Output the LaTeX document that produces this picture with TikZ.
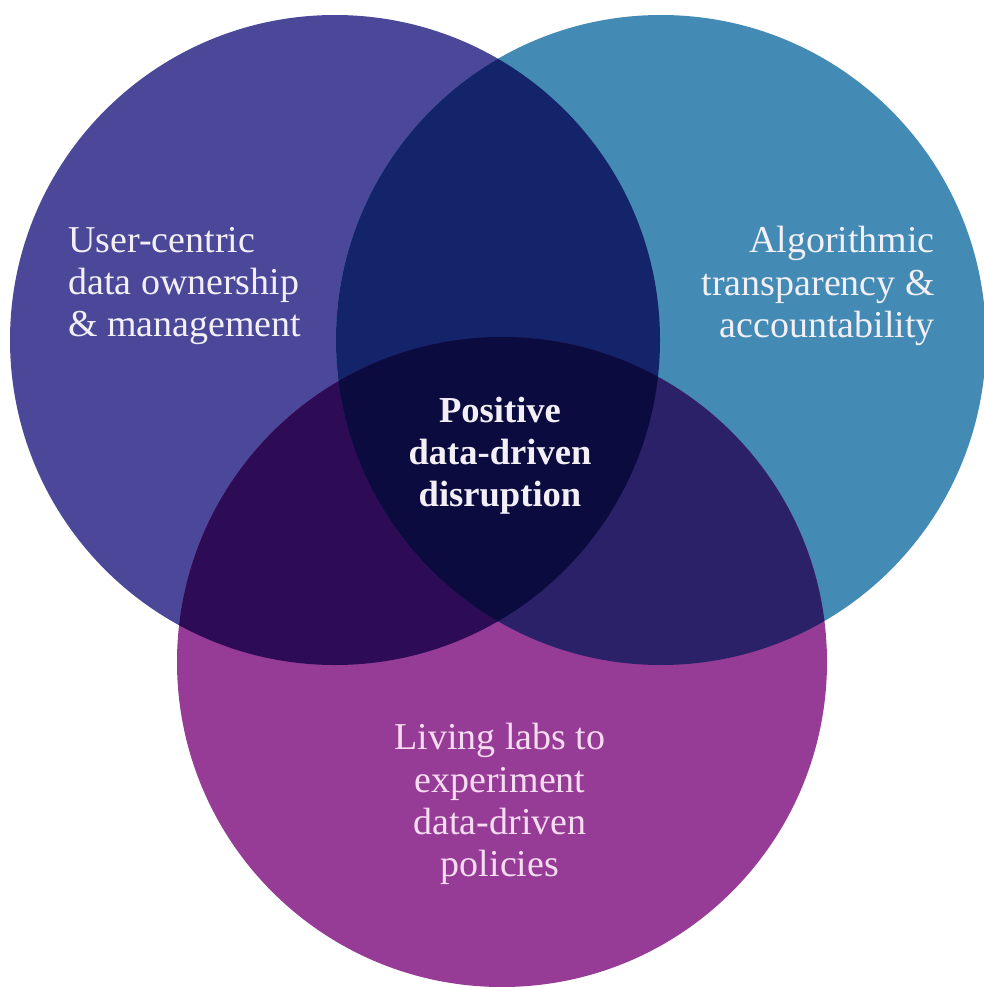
\documentclass[tikz,border=0pt]{standalone}
\usepackage{fontspec}
\setmainfont{Liberation Serif}
\usetikzlibrary{positioning}
\definecolor{ownerblue}{HTML}{4B4899}
\definecolor{algoblue}{HTML}{438AB5}
\definecolor{labpurple}{HTML}{963C96}
\definecolor{navyAB}{HTML}{14246B}
\definecolor{plumAC}{HTML}{2E0C55}
\definecolor{indigoBC}{HTML}{2A2169}
\definecolor{coreink}{HTML}{0B0B40}
\definecolor{softwhite}{HTML}{F2F0F6}
\definecolor{softpink}{HTML}{F6DCF0}
\tikzset{
  venntext/.style={text=softwhite, font=\fontsize{27}{30}\selectfont, inner sep=0pt},
  corebold/.style={venntext, font=\fontsize{26}{30}\selectfont\bfseries, align=center}
}

\begin{document}
\begin{tikzpicture}[x=0.025cm, y=-0.025cm]
  \useasboundingbox (0,0) rectangle (984,987);
  \def\R{325}
  \coordinate (own) at (335,340);
  \coordinate (algo) at (661,340);
  \coordinate (lab) at (502,662);
  % the three sets
  \fill[ownerblue] (own) circle[radius=\R];
  \fill[algoblue] (algo) circle[radius=\R];
  \fill[labpurple] (lab) circle[radius=\R];
  % pairwise overlaps
  \begin{scope}
    \clip (own) circle[radius=\R];
    \fill[navyAB] (algo) circle[radius=\R];
    \fill[plumAC] (lab) circle[radius=\R];
  \end{scope}
  \begin{scope}
    \clip (algo) circle[radius=\R];
    \fill[indigoBC] (lab) circle[radius=\R];
  \end{scope}
  % centre
  \begin{scope}
    \clip (own) circle[radius=\R];
    \clip (algo) circle[radius=\R];
    \fill[coreink] (lab) circle[radius=\R];
  \end{scope}
  \node[venntext, anchor=west, align=left] (ownlbl) at (68,286)
    {User-centric\\data ownership\\\& management};
  \node[venntext, anchor=east, align=right] (algolbl) at (935,286)
    {Algorithmic\\transparency \&\\accountability};
  \node[corebold] (corelbl) at (500,456)
    {Positive\\data-driven\\disruption};
  \node[venntext, text=softpink, align=center] (lablbl) at (500,804)
    {Living labs to\\experiment\\data-driven\\policies};
\end{tikzpicture}
\end{document}
